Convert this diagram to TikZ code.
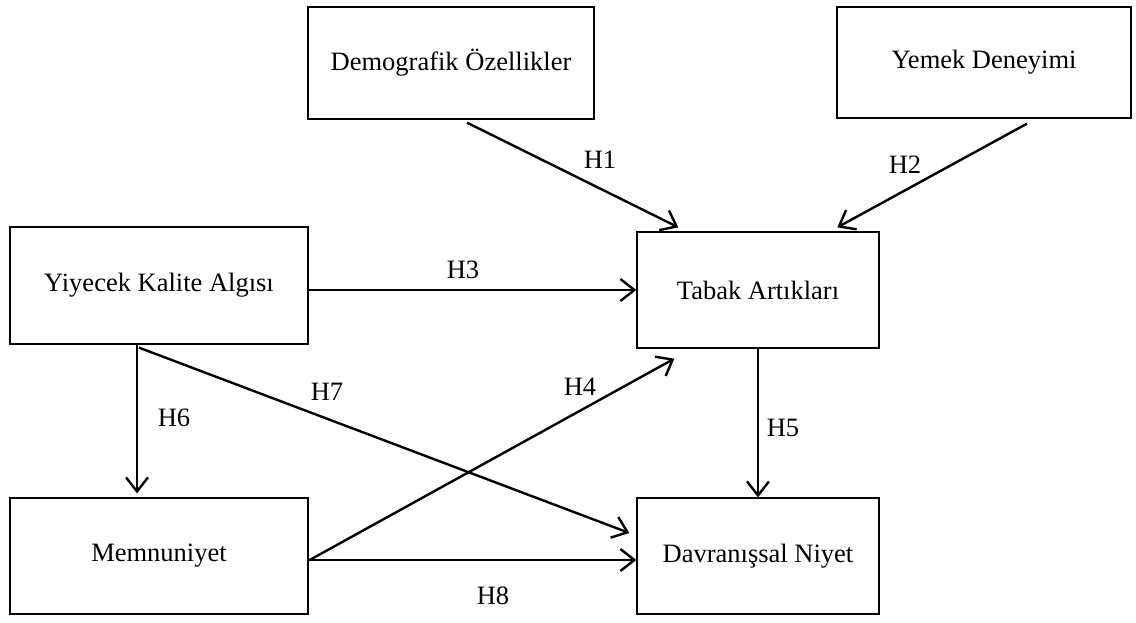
\documentclass[tikz,border=0pt]{standalone}
\usepackage{fontspec}
\setmainfont{Liberation Serif}
\usetikzlibrary{arrows.meta,calc}
\begin{document}
\begin{tikzpicture}[x=1pt,y=-1pt,
  box/.style={draw,line width=1.3pt,inner sep=0pt,font=\fontsize{26.5}{31}\selectfont},
  conn/.style={line width=2.4pt,-{Straight Barb[length=14pt,width=22pt,line width=2.4pt]}},
  lbl/.style={font=\fontsize{26.5}{31}\selectfont,inner sep=0pt}]
\useasboundingbox[fill=white] (0,0) rectangle (1136,623);
\node[box,minimum width=286pt,minimum height=112pt] (demo) at (451,63) {Demografik Özellikler};
\node[box,minimum width=294pt,minimum height=111pt] (yemek) at (984,62.5) {\raisebox{-4pt}{Yemek Deneyimi}};
\node[box,minimum width=242pt,minimum height=116pt] (tabak) at (758,290) {Tabak Artıkları};
\node[box,minimum width=298pt,minimum height=117pt] (yiyecek) at (159,285.5) {Yiyecek Kalite Algısı};
\node[box,minimum width=298pt,minimum height=116pt] (memnun) at (159,556) {Memnuniyet};
\node[box,minimum width=242pt,minimum height=116pt] (davran) at (758,556) {Davranışsal Niyet};

\draw[conn] ($(demo.south)+(16,3)$) -- ($(tabak.north west)+(42,-4)$);
\draw[conn] ($(yemek.south)+(43,5)$) -- ($(tabak.north west)+(201,-4)$);
\draw[conn] (yiyecek.east |- tabak.west) -- (tabak.west);
\draw[conn] ($(memnun.east)+(1,4)$) -- ($(tabak.south west)+(38,10)$);
\draw[conn] (tabak.south) -- (davran.north);
\draw[conn] ($(yiyecek.south)+(-22,0)$) -- ($(memnun.north)+(-22,-4)$);
\draw[conn] ($(yiyecek.south)+(-20,3)$) -- ($(davran.west)+(-7,-23)$);
\draw[conn] ($(memnun.east)+(0,4)$) -- ($(davran.west)+(0,4)$);

\node[lbl] (h1) at (600,160) {H1};
\node[lbl] (h2) at (905,165) {H2};
\node[lbl] (h3) at (463,270) {H3};
\node[lbl] (h4) at (580,387) {H4};
\node[lbl] (h5) at (783,428) {H5};
\node[lbl] (h6) at (174,418) {H6};
\node[lbl] (h7) at (327,392) {H7};
\node[lbl] (h8) at (493,596) {H8};
\end{tikzpicture}
\end{document}
